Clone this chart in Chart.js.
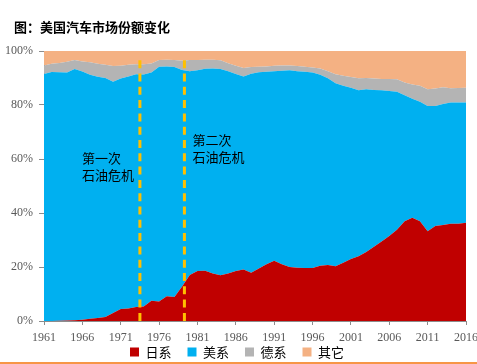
<!DOCTYPE html>
<html>
<head>
<meta charset="utf-8">
<script src="https://cdn.jsdelivr.net/npm/chart.js@4/dist/chart.umd.min.js"></script>
<style>
html, body { margin: 0; padding: 0; background: #fff; }
#wrap { position: relative; width: 477px; height: 364px; overflow: hidden; }
#title { position: absolute; left: 14px; top: 17px; font: bold 13px/19px "Noto Sans CJK SC", sans-serif; color: #000; }
#wrap:after { content: ''; position: absolute; left: 0; right: 0; bottom: 0; height: 2px; background: #F79646; }
</style>
</head>
<body>
<div id="wrap">
  <canvas id="share" width="477" height="364"></canvas>
  <div id="title">图：美国汽车市场份额变化</div>
</div>
<script>
const YEARS = [1961, 1962, 1963, 1964, 1965, 1966, 1967, 1968, 1969, 1970,
    1971, 1972, 1973, 1974, 1975, 1976, 1977, 1978, 1979, 1980,
    1981, 1982, 1983, 1984, 1985, 1986, 1987, 1988, 1989, 1990,
    1991, 1992, 1993, 1994, 1995, 1996, 1997, 1998, 1999, 2000,
    2001, 2002, 2003, 2004, 2005, 2006, 2007, 2008, 2009, 2010,
    2011, 2012, 2013, 2014, 2015, 2016];

const SERIES_NAMES = ['日系', '美系', '德系', '其它'];
const SERIES_COLORS = ['#C00000', '#00B0F0', '#B4B4B4', '#F4B183'];

// market share, %
const JAPAN = [0, 0, 0.1, 0.2, 0.3, 0.5, 0.8, 1.1, 1.5, 3.0,
    4.4, 4.6, 5.2, 5.4, 7.5, 7.2, 9.2, 8.9, 12.8, 17.0,
    18.5, 18.6, 17.6, 16.9, 17.6, 18.5, 19.1, 17.9, 19.4, 21.0,
    22.3, 21.0, 20.0, 19.7, 19.6, 19.6, 20.5, 20.7, 20.3, 21.6,
    23.0, 24.0, 25.6, 27.5, 29.4, 31.5, 33.8, 36.9, 38.2, 36.9,
    33.2, 35.2, 35.6, 36.0, 36.0, 36.4];
const USA = [91.5, 92.2, 92.0, 91.8, 93.0, 91.9, 90.4, 89.4, 88.5, 85.6,
    85.4, 86.0, 86.2, 85.9, 84.5, 87.0, 85.1, 85.2, 80.2, 75.5,
    74.4, 74.8, 75.9, 76.4, 74.9, 73.0, 71.5, 73.7, 72.7, 71.3,
    70.2, 71.7, 72.9, 72.8, 72.7, 72.4, 70.7, 69.2, 67.8, 65.5,
    63.4, 61.5, 60.2, 58.1, 56.1, 53.7, 51.1, 46.7, 44.1, 44.3,
    46.4, 44.4, 44.8, 44.9, 44.9, 44.5];
const GERMANY = [3.1, 3.1, 3.5, 4.0, 3.4, 3.7, 4.6, 4.8, 4.9, 5.8,
    4.7, 4.3, 3.7, 3.8, 3.4, 2.5, 2.5, 2.6, 3.4, 4.2,
    3.8, 3.4, 3.3, 3.3, 3.0, 3.0, 3.1, 2.5, 2.1, 2.0,
    2.0, 1.9, 1.7, 1.9, 1.9, 1.9, 2.3, 2.6, 3.3, 3.7,
    4.0, 4.4, 4.2, 4.2, 4.1, 4.4, 4.6, 4.7, 5.3, 5.9,
    6.2, 6.5, 6.2, 5.3, 5.4, 5.5];
const OTHER = [5.4, 4.7, 4.4, 4.0, 3.3, 3.9, 4.2, 4.7, 5.1, 5.6,
    5.5, 5.1, 4.9, 4.9, 4.6, 3.3, 3.2, 3.3, 3.6, 3.3,
    3.3, 3.2, 3.2, 3.4, 4.5, 5.5, 6.3, 5.9, 5.8, 5.7,
    5.5, 5.4, 5.4, 5.6, 5.8, 6.1, 6.5, 7.5, 8.6, 9.2,
    9.6, 10.1, 10.0, 10.2, 10.4, 10.4, 10.5, 11.7, 12.4, 12.9,
    14.2, 13.9, 13.4, 13.8, 13.7, 13.6];

const Y_TICKS = [0, 20, 40, 60, 80, 100];

// oil crises: where the dashed marker sits, its caption and the share level the caption starts at
const CRISIS_YEARS = [1973.5, 1979.3];
const CRISIS_LABELS = [['第一次', '石油危机'], ['第二次', '石油危机']];
const CRISIS_LABEL_LEVELS = [60.2, 66.9];

const AXIS_COLOR = '#8C8C8C';
const TICK_FONT = { family: '"Liberation Serif", "Times New Roman", serif', size: 12 };
const CJK_FONT = '"Noto Sans CJK SC", sans-serif';

function getDatasets() {
    return [JAPAN, USA, GERMANY, OTHER].map((values, i) => ({
        label: SERIES_NAMES[i],
        data: values,
        backgroundColor: SERIES_COLORS[i],
        borderColor: SERIES_COLORS[i],
        borderWidth: 0,
        pointRadius: 0,
        tension: 0,
        fill: i === 0 ? 'origin' : '-1'
    }));
}

function getCrisisPlugin() {
    return {
        id: 'crisisLines',
        afterDatasetsDraw(chart) {
            const { ctx, chartArea, scales: { x, y } } = chart;
            ctx.save();
            CRISIS_YEARS.forEach((year, i) => {
                const px = x.getPixelForValue(year - YEARS[0]);

                ctx.beginPath();
                ctx.setLineDash([8, 5.3]);
                ctx.lineWidth = 3;
                ctx.strokeStyle = '#FFC000';
                ctx.moveTo(px, y.getPixelForValue(96.6));
                ctx.lineTo(px, chartArea.bottom + 2);
                ctx.stroke();

                ctx.setLineDash([]);
                ctx.font = '13px ' + CJK_FONT;
                ctx.fillStyle = '#000';
                ctx.textBaseline = 'middle';
                ctx.textAlign = 'left';
                const lines = CRISIS_LABELS[i];
                const widest = Math.max(...lines.map(t => ctx.measureText(t).width));
                const left = i === 0 ? px - 6 - widest : px + 8;
                const top = y.getPixelForValue(CRISIS_LABEL_LEVELS[i]);
                lines.forEach((t, k) => ctx.fillText(t, left, top + k * 17));
            });
            ctx.restore();
        }
    };
}

// the legend sits closer to the year labels than chart.js would place it
function getLegendShiftPlugin() {
    return {
        id: 'legendShift',
        afterLayout(chart) {
            const legend = chart.legend;
            legend.top = chart.chartArea.bottom + 8.5;
            legend.bottom = chart.height;
            legend.height = legend.bottom - legend.top;
            legend.left += 8;
        }
    };
}

new Chart(document.getElementById('share'), {
    type: 'line',
    data: { labels: YEARS.map(String), datasets: getDatasets() },
    options: {
        responsive: false,
        animation: false,
        devicePixelRatio: 1,
        layout: { padding: { top: 51, right: 11, left: 0, bottom: 0 } },
        plugins: {
            title: { display: false },
            tooltip: { enabled: false },
            legend: {
                position: 'bottom',
                maxHeight: 19,
                labels: {
                    boxWidth: 9,
                    boxHeight: 9,
                    padding: 16,
                    color: '#000',
                    font: { family: CJK_FONT, size: 13 }
                }
            }
        },
        scales: {
            x: {
                type: 'category',
                offset: false,
                grid: {
                    drawOnChartArea: false,
                    tickLength: 4,
                    color: ctx => ctx.index % 5 === 0 ? AXIS_COLOR : 'transparent'
                },
                border: { color: AXIS_COLOR, width: 1 },
                ticks: {
                    autoSkip: false,
                    maxRotation: 0,
                    padding: 6,
                    color: '#595959',
                    font: TICK_FONT,
                    callback: (v, i) => i % 5 === 0 ? YEARS[i] : ''
                },
                afterFit(scale) {
                    scale.height = 24;
                    scale.paddingLeft = 0;
                    scale.paddingRight = 0;
                }
            },
            y: {
                stacked: true,
                min: 0,
                max: 100,
                afterBuildTicks(scale) { scale.ticks = Y_TICKS.map(v => ({ value: v })); },
                grid: { drawOnChartArea: false, tickLength: 5, color: AXIS_COLOR },
                border: { color: AXIS_COLOR, width: 1 },
                ticks: {
                    padding: 6,
                    color: '#595959',
                    font: TICK_FONT,
                    callback: v => v + '%'
                },
                afterFit(scale) { scale.width = 44; }
            }
        }
    },
    plugins: [getCrisisPlugin(), getLegendShiftPlugin()]
});
</script>
</body>
</html>
